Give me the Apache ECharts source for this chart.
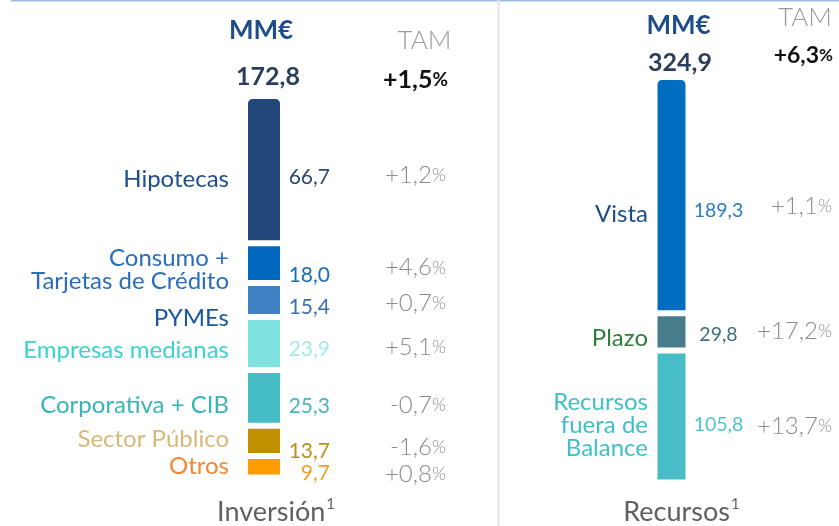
<!DOCTYPE html>
<html>
<head>
<meta charset="utf-8">
<script src="https://cdn.jsdelivr.net/npm/echarts@6/dist/echarts.min.js"></script>
<style>
html, body { margin: 0; padding: 0; background: #fff; }
#chart { width: 839px; height: 526px; }
</style>
</head>
<body>
<div id="chart"></div>
<script>
// datos (de arriba a abajo)
var groups = ['Inversión', 'Recursos'];

var invNames = ['Hipotecas', 'Consumo +\nTarjetas de Crédito', 'PYMEs', 'Empresas medianas', 'Corporativa + CIB', 'Sector Público', 'Otros'];
var invValues = [66.7, 18.0, 15.4, 23.9, 25.3, 13.7, 9.7];
var invTam = ['+1,2', '+4,6', '+0,7', '+5,1', '-0,7', '-1,6', '+0,8'];
var invTotal = 172.8;
var invTamTotal = '+1,5';

var recNames = ['Vista', 'Plazo', 'Recursos\nfuera de\nBalance'];
var recValues = [189.3, 29.8, 105.8];
var recTam = ['+1,1', '+17,2', '+13,7'];
var recTotal = 324.9;
var recTamTotal = '+6,3';

// estilos
var invBarColors = ['#21477B', '#0068BF', '#3E82C4', '#80E2E0', '#46BCC6', '#BF9000', '#FF9C00'];
var invNameColors = ['#1D4E89', '#2A6EBB', '#1B56A0', '#3DD1CF', '#36B4B6', '#D6B97A', '#F58634'];
var invValColors = ['#2C4770', '#1A6DB5', '#3A72AE', '#A6EAE8', '#49B4BE', '#B8901A', '#F4A024'];
var recBarColors = ['#006DC0', '#477D8A', '#48BDC7'];
var recNameColors = ['#1C4E8A', '#2E7D3A', '#3FC0C8'];
var recValColors = ['#2C7CC2', '#3D6F7E', '#52C3CB'];

// desplazamientos verticales (px) de los textos respecto al centro del bloque
var invOff = { name: [10, 7, 18.5, 6.5, 7, -1.5, -0.5], value: [8, 12, 7.5, 6, 8, 10, 6], tam: [6, 4.5, 3.5, 3.5, 7.5, 6.5, 7] };
var recOff = { name: [19.5, 6.5, 9], value: [15.5, 2.5, 8], tam: [11, -0.5, 9.5] };

var FONT = 'Lato, "Open Sans", sans-serif';
var GAP = 3;

function fmt(v) {
	return v.toFixed(1).replace('.', ',');
}
function sum(a) {
	return a.reduce(function(s, v) { return s + v; }, 0);
}

var panels = [
	{ values: invValues, names: invNames, tam: invTam, total: invTotal, tamTotal: invTamTotal,
	  bar: invBarColors, nameCol: invNameColors, valCol: invValColors, off: invOff,
	  barWidth: 38, nameX: -35, valX: 66, valAlign: 'right', tamX: 446, valSize: 21 },
	{ values: recValues, names: recNames, tam: recTam, total: recTotal, tamTotal: recTamTotal,
	  bar: recBarColors, nameCol: recNameColors, valCol: recValColors, off: recOff,
	  barWidth: 34, nameX: -23.5, valX: 47, valAlign: 'center', tamX: 832, valSize: 19.5 }
];

var series = [];
panels.forEach(function(p, pi) {
	// se apila de abajo hacia arriba
	for (var i = p.values.length - 1; i >= 0; i--) {
		series.push({
			type: 'bar',
			name: p.names[i],
			xAxisIndex: pi,
			yAxisIndex: pi,
			stack: 'p' + pi,
			barWidth: p.barWidth,
			silent: true,
			data: [p.values[i]],
			itemStyle: {
				color: p.bar[i],
				borderColor: '#fff',
				borderWidth: GAP,
				borderRadius: i === 0 ? [6, 6, 0, 0] : 0
			}
		});
	}
});

var axisRich = {
	a: { fontFamily: FONT, fontSize: 27, color: '#606060', lineHeight: 32 },
	s: { fontFamily: FONT, fontSize: 15, color: '#606060', verticalAlign: 'top', lineHeight: 32, padding: [0, 0, 13, 1] }
};

var option = {
	backgroundColor: '#fff',
	animation: false,
	grid: [
		{ left: 224, width: 80, top: 96, height: 384 },
		{ left: 631.5, width: 80, top: 77, height: 408 }
	],
	xAxis: groups.map(function(g, gi) {
		return {
			gridIndex: gi,
			type: 'category',
			data: [g],
			axisLine: { show: false },
			axisTick: { show: false },
			axisLabel: {
				margin: gi === 0 ? 19 : 14,
				padding: [0, 0, 0, gi === 0 ? 24 : 20],
				formatter: function(v) { return '{a|' + v + '}{s|1}'; },
				rich: axisRich
			}
		};
	}),
	yAxis: panels.map(function(p, pi) {
		return { gridIndex: pi, type: 'value', min: 0, max: sum(p.values), show: false };
	}),
	series: series
};

var chart = echarts.init(document.getElementById('chart'));
chart.setOption(option);

var els = [];
// marco
els.push({ type: 'line', shape: { x1: 11, y1: 0.75, x2: 839, y2: 0.75 }, style: { stroke: '#9DBDDC', lineWidth: 1.5 } });
els.push({ type: 'line', shape: { x1: 498.5, y1: 0, x2: 498.5, y2: 526 }, style: { stroke: '#E2E2E2', lineWidth: 2 } });

function txt(x, y, text, fill, size, weight, align, extra) {
	var st = { text: text, fill: fill, fontSize: size, fontFamily: FONT, fontWeight: weight || 'normal',
		align: align || 'center', verticalAlign: 'middle' };
	if (extra) for (var k in extra) st[k] = extra[k];
	els.push({ type: 'text', x: x, y: y, style: st, silent: true });
}
function tamText(x, y, t, size, color, weight) {
	txt(x, y, '{n|' + t + '}{p|%}', color, size, weight, 'right', {
		rich: {
			n: { fontSize: size, fontFamily: FONT, fontWeight: weight, fill: color },
			p: { fontSize: Math.round(size * 0.76), fontFamily: FONT, fontWeight: weight, fill: color }
		}
	});
}

panels.forEach(function(p, pi) {
	var cx = chart.convertToPixel({ gridIndex: pi }, [groups[pi], 0])[0];
	var below = 0;
	var n = p.values.length;
	var bottoms = [];
	for (var i = n - 1; i >= 0; i--) { bottoms[i] = below; below += p.values[i]; }
	for (var j = 0; j < n; j++) {
		var y0 = chart.convertToPixel({ gridIndex: pi }, [groups[pi], bottoms[j]])[1];
		var y1 = chart.convertToPixel({ gridIndex: pi }, [groups[pi], bottoms[j] + p.values[j]])[1];
		var cy = (y0 + y1) / 2;
		txt(cx + p.nameX, cy + p.off.name[j], p.names[j], p.nameCol[j], 24, 'normal', 'right', { lineHeight: 23 });
		txt(cx + p.valX, cy + p.off.value[j], fmt(p.values[j]), p.valCol[j], p.valSize, 'normal', p.valAlign);
		tamText(p.tamX, cy + p.off.tam[j], p.tam[j], 24, '#8C8C8C', 300);
	}
});

// cabeceras
var c0 = chart.convertToPixel({ gridIndex: 0 }, [groups[0], 0])[0];
var c1 = chart.convertToPixel({ gridIndex: 1 }, [groups[1], 0])[0];
txt(c0 - 3, 31, 'MM€', '#1E4E8A', 26, 'bold');
txt(c0 + 4, 77, fmt(invTotal), '#2B3F5C', 25, 'bold');
txt(424.5, 41, 'TAM', '#9A9A9A', 26, 300);
tamText(448, 79.5, invTamTotal, 25, '#111', 'bold');
txt(c1 + 7, 26, 'MM€', '#1E4E8A', 26, 'bold');
txt(c1 + 8.5, 62.5, fmt(recTotal), '#2B3F5C', 25, 'bold');
txt(805, 17.5, 'TAM', '#9A9A9A', 26, 300);
tamText(833, 55.5, recTamTotal, 23, '#111', 'bold');

chart.setOption({ graphic: els });
</script>
</body>
</html>
